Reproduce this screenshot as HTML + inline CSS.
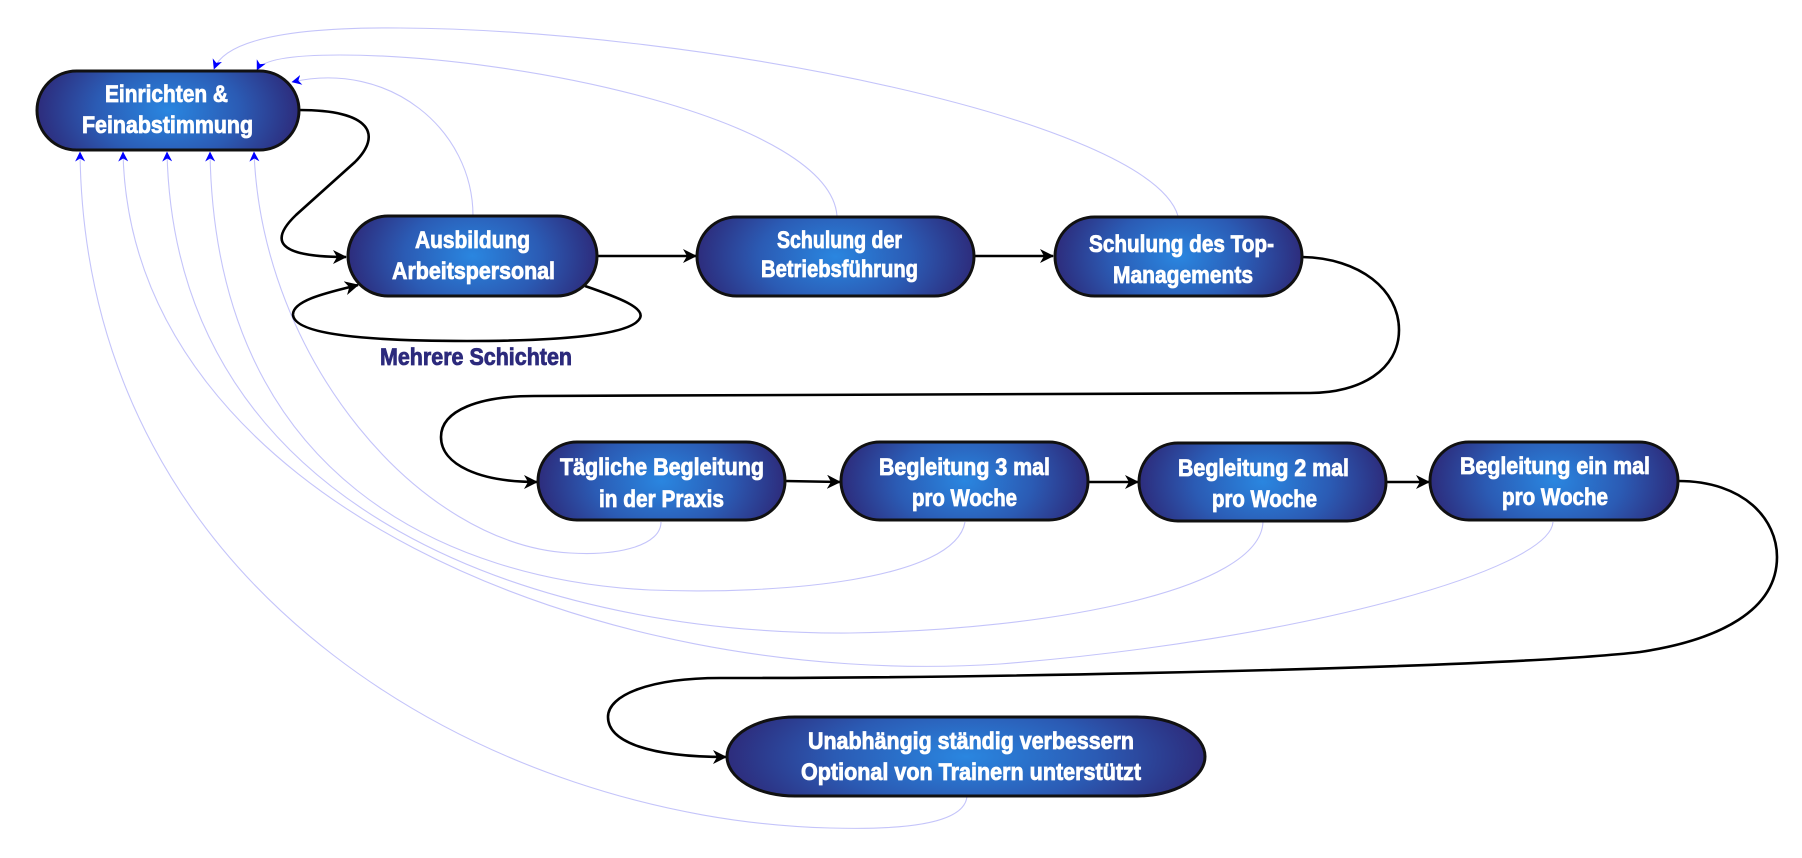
<!DOCTYPE html>
<html>
<head>
<meta charset="utf-8">
<style>
html,body{margin:0;padding:0;background:#fff;}
svg{display:block;}
.t{font-family:"Liberation Sans Narrow","Liberation Sans",sans-serif;font-weight:bold;font-size:24px;fill:#fff;stroke:#fff;stroke-width:0.8px;}
.lbl{font-family:"Liberation Sans Narrow","Liberation Sans",sans-serif;font-weight:bold;font-size:24px;fill:#2c2a7c;stroke:#2c2a7c;stroke-width:0.8px;}
.fb{fill:none;stroke:#c4c4fa;stroke-width:1.1;}
.bk{fill:none;stroke:#000;stroke-width:2.6;}
.node{stroke:#111;stroke-width:3;}
</style>
</head>
<body>
<svg width="1802" height="858" viewBox="0 0 1802 858" xmlns="http://www.w3.org/2000/svg">
<defs>
  <radialGradient id="g" cx="0.5" cy="0.5" r="0.5" gradientUnits="objectBoundingBox" gradientTransform="translate(0.5 0.5) scale(1 2.2) translate(-0.5 -0.5)">
    <stop offset="0" stop-color="#2a86e0"/>
    <stop offset="0.55" stop-color="#2b5bb4"/>
    <stop offset="1" stop-color="#2d2c7c"/>
  </radialGradient>
  <marker id="ab" viewBox="0 0 14 14" refX="13" refY="7" markerWidth="14" markerHeight="14" markerUnits="userSpaceOnUse" orient="auto">
    <path d="M0,0 L14,7 L0,14 L4,7 Z" fill="#000"/>
  </marker>
  <marker id="au" viewBox="0 0 10 10" refX="9.5" refY="5" markerWidth="10" markerHeight="10" markerUnits="userSpaceOnUse" orient="auto">
    <path d="M0,0 L10,5 L0,10 L3,5 Z" fill="#0000ff"/>
  </marker>
</defs>

<!-- feedback curves (light blue) -->
<path class="fb" d="M661,522 C661,545 620,556 570,553 C420,545 262,360 254,152" marker-end="url(#au)"/>
<path class="fb" d="M965,522 C955,580 780,595 650,590 C450,580 215,480 210,152" marker-end="url(#au)"/>
<path class="fb" d="M1263,522 C1260,590 1050,630 850,633 C550,635 175,520 167,152" marker-end="url(#au)"/>
<path class="fb" d="M1553,522 C1550,570 1300,640 1000,664 C600,690 130,500 123,152" marker-end="url(#au)"/>
<path class="fb" d="M967,796 C965,825 900,830 830,828 C500,820 85,600 80,152" marker-end="url(#au)"/>
<path class="fb" d="M473,216 C473,130 390,60 292,82" marker-end="url(#au)"/>
<path class="fb" d="M837,216 C830,120 520,55 340,55 C290,55 262,60 257,70" marker-end="url(#au)"/>
<path class="fb" d="M1178,216 C1150,120 700,30 400,28 C290,27 225,40 214,69" marker-end="url(#au)"/>

<!-- black connectors -->
<path class="bk" d="M299,110 C372,110 382,135 355,162 L296,215 C270,240 275,257 346,257" marker-end="url(#ab)"/>
<path class="bk" d="M585,286 C620,298 645,308 640,318 C632,335 560,341 467,341 C370,341 295,335 293,315 C292,300 330,292 358,285" marker-end="url(#ab)"/>
<path class="bk" d="M597,256 L696,256" marker-end="url(#ab)"/>
<path class="bk" d="M974,256 L1053,256" marker-end="url(#ab)"/>
<path class="bk" d="M1302,257 C1360,258 1399,290 1399,330 C1399,370 1360,393 1310,393 L534,396 C480,396 441,410 441,437 C441,465 480,482 537,482" marker-end="url(#ab)"/>
<path class="bk" d="M785,481 L840,482" marker-end="url(#ab)"/>
<path class="bk" d="M1088,482 L1138,482" marker-end="url(#ab)"/>
<path class="bk" d="M1386,482 L1429,482" marker-end="url(#ab)"/>
<path class="bk" d="M1678,481 C1745,481 1777,520 1777,557 C1777,610 1720,640 1640,652 C1500,668 1000,678 720,678 C650,678 608,695 608,717 C608,742 650,757 726,757" marker-end="url(#ab)"/>

<!-- nodes -->
<rect class="node" x="37" y="71" width="262" height="79" rx="39.5" ry="39.5" fill="url(#g)"/>
<rect class="node" x="348" y="216" width="249" height="80" rx="40" ry="40" fill="url(#g)"/>
<rect class="node" x="697" y="217" width="277" height="79" rx="39.5" ry="39.5" fill="url(#g)"/>
<rect class="node" x="1055" y="217" width="247" height="79" rx="39.5" ry="39.5" fill="url(#g)"/>
<rect class="node" x="538" y="442" width="247" height="78" rx="39" ry="39" fill="url(#g)"/>
<rect class="node" x="841" y="442" width="247" height="78" rx="39" ry="39" fill="url(#g)"/>
<rect class="node" x="1139" y="443" width="247" height="78" rx="39" ry="39" fill="url(#g)"/>
<rect class="node" x="1430" y="442" width="248" height="78" rx="39" ry="39" fill="url(#g)"/>
<rect class="node" x="727" y="717" width="478" height="79" rx="68" ry="39.5" fill="url(#g)"/>

<!-- node text -->
<text class="t" x="105" y="102" textLength="123" lengthAdjust="spacingAndGlyphs">Einrichten &amp;</text>
<text class="t" x="82" y="133" textLength="171" lengthAdjust="spacingAndGlyphs">Feinabstimmung</text>

<text class="t" x="415" y="248" textLength="115" lengthAdjust="spacingAndGlyphs">Ausbildung</text>
<text class="t" x="392" y="279" textLength="163" lengthAdjust="spacingAndGlyphs">Arbeitspersonal</text>

<text class="t" x="777" y="248" textLength="125" lengthAdjust="spacingAndGlyphs">Schulung der</text>
<text class="t" x="761" y="277" textLength="157" lengthAdjust="spacingAndGlyphs">Betriebsführung</text>

<text class="t" x="1089" y="252" textLength="185" lengthAdjust="spacingAndGlyphs">Schulung des Top-</text>
<text class="t" x="1113" y="283" textLength="140" lengthAdjust="spacingAndGlyphs">Managements</text>

<text class="t" x="560" y="475" textLength="204" lengthAdjust="spacingAndGlyphs">Tägliche Begleitung</text>
<text class="t" x="599" y="507" textLength="125" lengthAdjust="spacingAndGlyphs">in der Praxis</text>

<text class="t" x="879" y="475" textLength="171" lengthAdjust="spacingAndGlyphs">Begleitung 3 mal</text>
<text class="t" x="912" y="506" textLength="105" lengthAdjust="spacingAndGlyphs">pro Woche</text>

<text class="t" x="1178" y="476" textLength="171" lengthAdjust="spacingAndGlyphs">Begleitung 2 mal</text>
<text class="t" x="1212" y="507" textLength="105" lengthAdjust="spacingAndGlyphs">pro Woche</text>

<text class="t" x="1460" y="474" textLength="190" lengthAdjust="spacingAndGlyphs">Begleitung ein mal</text>
<text class="t" x="1502" y="505" textLength="106" lengthAdjust="spacingAndGlyphs">pro Woche</text>

<text class="t" x="808" y="749" textLength="326" lengthAdjust="spacingAndGlyphs">Unabhängig ständig verbessern</text>
<text class="t" x="801" y="780" textLength="340" lengthAdjust="spacingAndGlyphs">Optional von Trainern unterstützt</text>

<!-- connector label -->
<text class="lbl" x="380" y="365" textLength="192" lengthAdjust="spacingAndGlyphs">Mehrere Schichten</text>
</svg>
</body>
</html>
